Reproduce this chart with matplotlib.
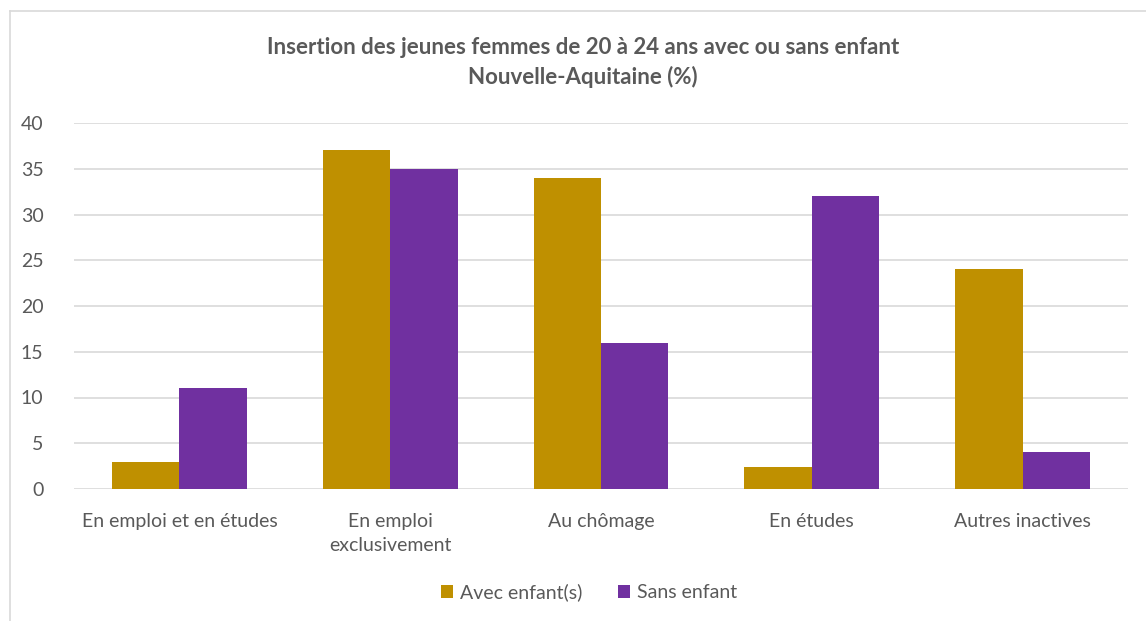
import matplotlib
matplotlib.use("Agg")
import matplotlib.pyplot as plt
from matplotlib.lines import Line2D
import numpy as np

categories = ["En emploi et en études", "En emploi\nexclusivement", "Au chômage", "En études", "Autres inactives"]
avec = [3, 37, 34, 2.4, 24]
sans = [11, 35, 16, 32, 4]
series_names = ["Avec enfant(s)", "Sans enfant"]
colors = ["#BF9000", "#7030A0"]
yticks = [0, 5, 10, 15, 20, 25, 30, 35, 40]

plt.rcParams['font.family'] = ['Lato', 'DejaVu Sans']
W, H = 1146, 621
fig = plt.figure(figsize=(W/100, H/100), dpi=100)
ax = fig.add_axes([74/W, 1-489/H, (1128-74)/W, (489-123)/H])

x = np.arange(len(categories))
bw = 0.32
ax.bar(x - bw/2, avec, bw, color=colors[0], label=series_names[0], zorder=3)
ax.bar(x + bw/2, sans, bw, color=colors[1], label=series_names[1], zorder=3)

ax.set_xlim(-0.5, len(categories) - 0.5)
ax.set_ylim(0, 40)
ax.set_yticks(yticks)
ax.yaxis.grid(True, color="#D9D9D9", linewidth=1.2, zorder=0)
for s in ax.spines.values():
    s.set_visible(False)
ax.tick_params(axis='both', length=0, labelsize=14, colors="#595959")
ax.tick_params(axis='y', pad=22)
ax.tick_params(axis='x', pad=17)
ax.set_xticks(x)
ax.set_xticklabels(categories, linespacing=1.55)

fig.text(583/W, 1-47/H, "Insertion des jeunes femmes de 20 à 24 ans avec ou sans enfant",
         ha='center', va='center', fontsize=16, fontweight='bold', color="#595959")
fig.text(583/W, 1-77/H, "Nouvelle-Aquitaine (%)",
         ha='center', va='center', fontsize=16, fontweight='bold', color="#595959")

leg = fig.legend(loc='center', bbox_to_anchor=(589/W, 1-592/H), ncol=2, frameon=False,
                 fontsize=14, handlelength=0.65, handleheight=0.65, handletextpad=0.35,
                 columnspacing=1.8)
for t in leg.get_texts():
    t.set_color("#595959")

fig.add_artist(Line2D([10/W, 10/W], [0, 1-11/H], transform=fig.transFigure, color="#D9D9D9", lw=1.2))
fig.add_artist(Line2D([10/W, 1], [1-11/H, 1-11/H], transform=fig.transFigure, color="#D9D9D9", lw=1.2))

fig.savefig("out.png", dpi=100)
